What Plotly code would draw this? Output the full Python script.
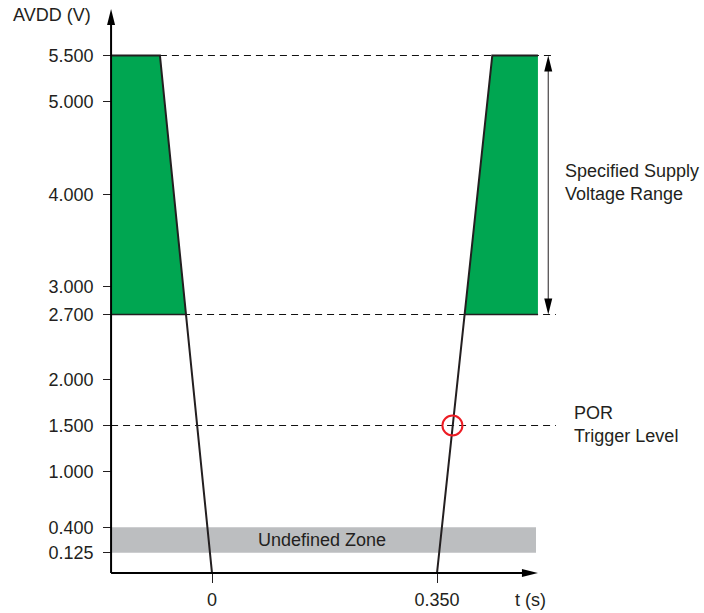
import plotly.graph_objects as go

# ---------------- data ----------------
Y_TICKS = [5.5, 5.0, 4.0, 3.0, 2.7, 2.0, 1.5, 1.0, 0.4, 0.125]
Y_TICK_TEXT = ["5.500", "5.000", "4.000", "3.000", "2.700", "2.000",
               "1.500", "1.000", "0.400", "0.125"]
X_TICKS = [0.0, 0.35]
X_TICK_TEXT = ["0", "0.350"]

V_MAX = 5.5          # top of specified range
V_MIN_SPEC = 2.7     # bottom of specified range
V_POR = 1.5          # POR trigger level
UNDEF_LO, UNDEF_HI = 0.125, 0.4

T_AXIS = -0.157      # time where the vertical axis sits
V_AXIS = -0.095      # voltage where the horizontal axis sits

# power-down ramp
down_t = [T_AXIS, -0.081, 0.0]
down_v = [5.5, 5.5, V_AXIS]
# power-up ramp
up_t = [0.35, 0.436, 0.507]
up_v = [V_AXIS, 5.5, 5.5]

# green "specified supply" areas
left_green_t = [T_AXIS, -0.081, -0.040, T_AXIS]
left_green_v = [5.5, 5.5, 2.7, 2.7]
right_green_t = [0.393, 0.436, 0.507, 0.507]
right_green_v = [2.7, 5.5, 5.5, 2.7]

dash_top_t = [-0.081, 0.535]
dash_full_t = [T_AXIS, 0.535]
undef_t = [T_AXIS, 0.504]
range_arrow_t = 0.523
por_cross_t = 0.374
x_axis_end_t = 0.507

# ---------------- style ----------------
INK = "#231F20"
GREEN = "#00A651"
GRAY = "#BCBEC0"
RED = "#ED1C24"
FONT = "Liberation Sans, Arial, sans-serif"
FS = 18

W, H = 704, 613
ML, MR, MT, MB = 90, 100, 9, 25
X_MIN, X_MAX = -0.18978, 0.60977
Y_MIN, Y_MAX = -0.2568, 6.0027

fig = go.Figure()

# green fills
for tt, vv in [(left_green_t, left_green_v), (right_green_t, right_green_v)]:
    fig.add_trace(go.Scatter(x=tt, y=vv, mode="lines", fill="toself",
                             fillcolor=GREEN, line=dict(width=0),
                             hoverinfo="skip", showlegend=False))

# dashed reference lines
for tt, v in [(dash_top_t, V_MAX), (dash_full_t, V_MIN_SPEC), (dash_full_t, V_POR)]:
    fig.add_trace(go.Scatter(x=tt, y=[v, v], mode="lines",
                             line=dict(color="#111111", width=1.2, dash="7px,5px"),
                             hoverinfo="skip", showlegend=False))

# solid bottom edges of green areas
for tt in [[left_green_t[0], left_green_t[2]], [right_green_t[0], right_green_t[3]]]:
    fig.add_trace(go.Scatter(x=tt, y=[V_MIN_SPEC, V_MIN_SPEC], mode="lines",
                             line=dict(color=INK, width=1.3),
                             hoverinfo="skip", showlegend=False))

# supply ramps
for tt, vv in [(down_t, down_v), (up_t, up_v)]:
    fig.add_trace(go.Scatter(x=tt, y=vv, mode="lines",
                             line=dict(color=INK, width=2),
                             hoverinfo="skip", showlegend=False))

shapes = []
# undefined zone
shapes.append(dict(type="rect", xref="x", yref="y", x0=undef_t[0], x1=undef_t[1],
                   y0=UNDEF_LO, y1=UNDEF_HI, fillcolor=GRAY, line=dict(width=0),
                   layer="below"))
# axes lines
shapes.append(dict(type="line", xref="x", yref="y", x0=T_AXIS, x1=T_AXIS,
                   y0=V_AXIS, y1=Y_MAX - 0.1, line=dict(color="black", width=2)))
shapes.append(dict(type="line", xref="x", yref="y", x0=T_AXIS, x1=x_axis_end_t - 0.012,
                   y0=V_AXIS, y1=V_AXIS, line=dict(color="black", width=2)))
# range double arrow line
shapes.append(dict(type="line", xref="x", yref="y", x0=range_arrow_t, x1=range_arrow_t,
                   y0=V_MIN_SPEC + 0.12, y1=V_MAX - 0.12, line=dict(color=INK, width=1)))


def head(t, v, path):
    return dict(type="path", xref="x", yref="y", xsizemode="pixel", ysizemode="pixel",
                xanchor=t, yanchor=v, path=path, fillcolor="black",
                line=dict(width=0))


UP = "M0,0 L-4,-16 L4,-16 Z"
DOWN = "M0,0 L-4,16 L4,16 Z"
RIGHT = "M0,0 L-16,4 L-16,-4 Z"
shapes.append(head(T_AXIS, Y_MAX, UP))
shapes.append(head(x_axis_end_t, V_AXIS, RIGHT))
shapes.append(head(range_arrow_t, V_MAX, UP))
shapes.append(head(range_arrow_t, V_MIN_SPEC, DOWN))
# POR crossing circle
shapes.append(dict(type="circle", xref="x", yref="y", xsizemode="pixel", ysizemode="pixel",
                   xanchor=por_cross_t, yanchor=V_POR, x0=-10, x1=10, y0=-10, y1=10,
                   line=dict(color=RED, width=2)))

annotations = [
    dict(text="AVDD (V)", x=-0.1851, y=5.94, xref="x", yref="y", xanchor="right",
         yanchor="middle", showarrow=False),
    dict(text="t (s)", x=0.4962, y=-0.021, xref="x", yref="paper", xanchor="center",
         yanchor="middle", showarrow=False),
    dict(text="Undefined Zone", x=0.171, y=(UNDEF_LO + UNDEF_HI) / 2, xref="x", yref="y",
         xanchor="center", yanchor="middle", showarrow=False),
    dict(text="Specified Supply<br>Voltage Range", x=0.546, y=4.13, xref="x", yref="y",
         xanchor="left", yanchor="middle", align="left", showarrow=False),
    dict(text="POR<br>Trigger Level", x=0.56, y=1.51, xref="x", yref="y",
         xanchor="left", yanchor="middle", align="left", showarrow=False),
]

fig.update_layout(
    width=W, height=H, margin=dict(l=ML, r=MR, t=MT, b=MB, autoexpand=False),
    paper_bgcolor="white", plot_bgcolor="white",
    font=dict(family=FONT, size=FS, color=INK),
    shapes=shapes, annotations=annotations, showlegend=False,
    xaxis=dict(range=[X_MIN, X_MAX], anchor="free", automargin=False,
               position=(V_AXIS - Y_MIN) / (Y_MAX - Y_MIN),
               tickvals=X_TICKS, ticktext=X_TICK_TEXT, ticks="outside",
               ticklen=9, tickwidth=1, tickcolor=INK, showgrid=False,
               zeroline=False, showline=False, ticklabelstandoff=1),
    yaxis=dict(range=[Y_MIN, Y_MAX], anchor="free", automargin=False,
               position=(T_AXIS - X_MIN) / (X_MAX - X_MIN),
               tickvals=Y_TICKS, ticktext=Y_TICK_TEXT, ticks="outside",
               ticklen=8, tickwidth=1.2, tickcolor=INK, showgrid=False,
               zeroline=False, showline=False, ticklabelstandoff=6),
)

fig.write_html("out.html", config={"displayModeBar": False},
               post_script="document.body.style.margin='0';")
